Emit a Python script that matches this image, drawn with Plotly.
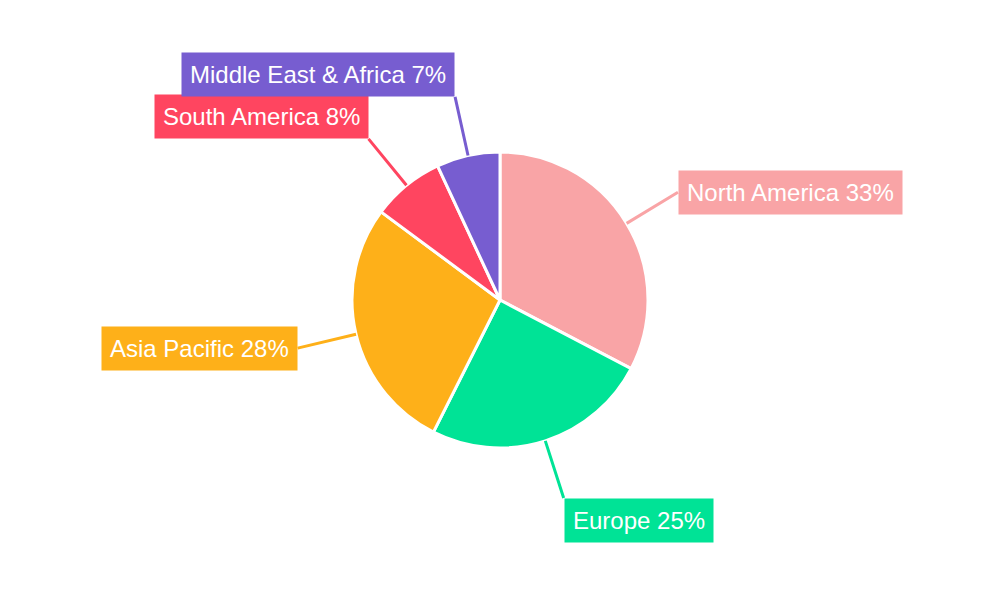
import math
import plotly.graph_objects as go

regions = ["North America", "Europe", "Asia Pacific", "South America", "Middle East & Africa"]
shares = [33, 25, 28, 8, 7]
colors = ["#F9A4A6", "#00E396", "#FEB019", "#FF4560", "#775DD0"]

W, H = 1000, 600
cx, cy, r = 0.5 - 8 / W, 0.5 + 8 / H, 148  # pie centre (paper, page margin offset) and radius (px)

fig = go.Figure(go.Pie(
    labels=regions, values=shares, sort=False, direction="clockwise", rotation=0,
    marker=dict(colors=colors, line=dict(color="white", width=3)),
    textinfo="none", hoverinfo="label+percent",
    domain=dict(x=[cx - r / W, cx + r / W], y=[cy - r / H, cy + r / H]),
))

total = sum(shares)
cum = 0
annotations = []
for name, v, c in zip(regions, shares, colors):
    theta = 2 * math.pi * (cum + v / 2) / total
    cum += v
    s, co = math.sin(theta), math.cos(theta)
    yanchor = "bottom" if co > 0.7 else ("top" if co < -0.7 else "middle")
    annotations.append(dict(
        x=cx + r * s / W, y=cy + r * co / H, xref="paper", yref="paper",
        text=f"{name} {round(100 * v / total)}%", showarrow=True, arrowhead=0,
        arrowwidth=3, arrowcolor=c, ax=60 * s, ay=-60 * co,
        xanchor="left" if s > 0 else "right", yanchor=yanchor,
        bgcolor=c, borderpad=8, font=dict(color="white", size=24, family="Liberation Sans"),
    ))

fig.update_layout(
    width=W, height=H, margin=dict(l=0, r=0, t=0, b=0), showlegend=False,
    paper_bgcolor="white", annotations=annotations,
)
fig.write_html("out.html")
